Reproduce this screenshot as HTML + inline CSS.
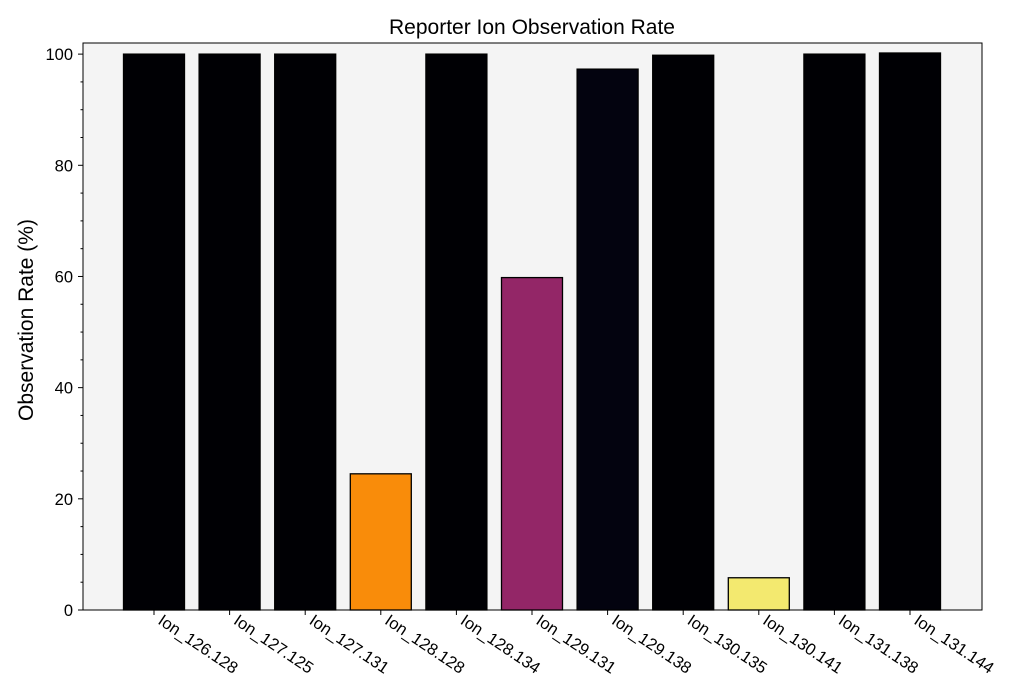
<!DOCTYPE html>
<html><head><meta charset="utf-8">
<style>
html,body{margin:0;padding:0;background:#fff;}
svg{display:block;font-family:"Liberation Sans",Arial,sans-serif;}
</style></head>
<body>
<svg id="chart" width="1023" height="699">
<rect x="83" y="43" width="899" height="567" fill="#f4f4f4"/>
<g id="bars"></g>
<g id="yaxis"></g>
<g id="xaxis"></g>
<rect x="83" y="43" width="899" height="567" fill="none" stroke="#000" stroke-width="1"/>
<text x="532" y="34" text-anchor="middle" font-size="21">Reporter Ion Observation Rate</text>
<text transform="translate(33,320) rotate(-90)" text-anchor="middle" font-size="21">Observation Rate (%)</text>
</svg>
<script>
const categories = ["Ion_126.128","Ion_127.125","Ion_127.131","Ion_128.128","Ion_128.134","Ion_129.131","Ion_129.138","Ion_130.135","Ion_130.141","Ion_131.138","Ion_131.144"];
const values = [100, 100, 100, 24.5, 100, 59.8, 97.3, 99.8, 5.8, 100, 100.2];
const barColors = ["#000004","#000004","#000004","#f98c0a","#000004","#932667","#03030f","#000004","#f3e96f","#000004","#000004"];
const yTicks = [0, 20, 40, 60, 80, 100];

const NS = "http://www.w3.org/2000/svg";
const x0 = 83, x1 = 982, yTop = 43, yBot = 610, yMax = 102;
const yScale = v => yBot - v / yMax * (yBot - yTop);
const step = 75.6, first = 154;
const xScale = i => first + i * step;
const bw = 61;
function mk(tag, attrs, parent){ const e=document.createElementNS(NS,tag); for(const k in attrs) e.setAttribute(k,attrs[k]); parent.appendChild(e); return e; }

const gb = document.getElementById("bars");
values.forEach((v,i)=>{
  const r = mk("rect",{x:xScale(i)-bw/2,y:yScale(v),width:bw,height:yBot-yScale(v),fill:barColors[i],stroke:"#000","stroke-width":1.3},gb);
  
  
});

const gy = document.getElementById("yaxis");
for(let v=0; v<=100; v+=5){
  const major = v%20===0;
  const t = mk("line",{x1:x0,x2:x0-(major?5:2.5),y1:yScale(v),y2:yScale(v),stroke:"#000","stroke-width":1},gy);
  
  
}
yTicks.forEach(v=>{
  const t = mk("text",{x:x0-10,y:yScale(v)+6,"text-anchor":"end","font-size":16.5},gy);
  t.textContent = v;
  
  
});

const gx = document.getElementById("xaxis");
categories.forEach((c,i)=>{
  const x = xScale(i);
  const l = mk("line",{x1:x,x2:x,y1:yBot,y2:yBot+5,stroke:"#000","stroke-width":1},gx);
  
  
  const t = mk("text",{transform:`translate(${x+3},${yBot+13}) rotate(34)`,"font-size":16.5},gx);
  t.textContent = c;
  
  
});
</script>
</body></html>
